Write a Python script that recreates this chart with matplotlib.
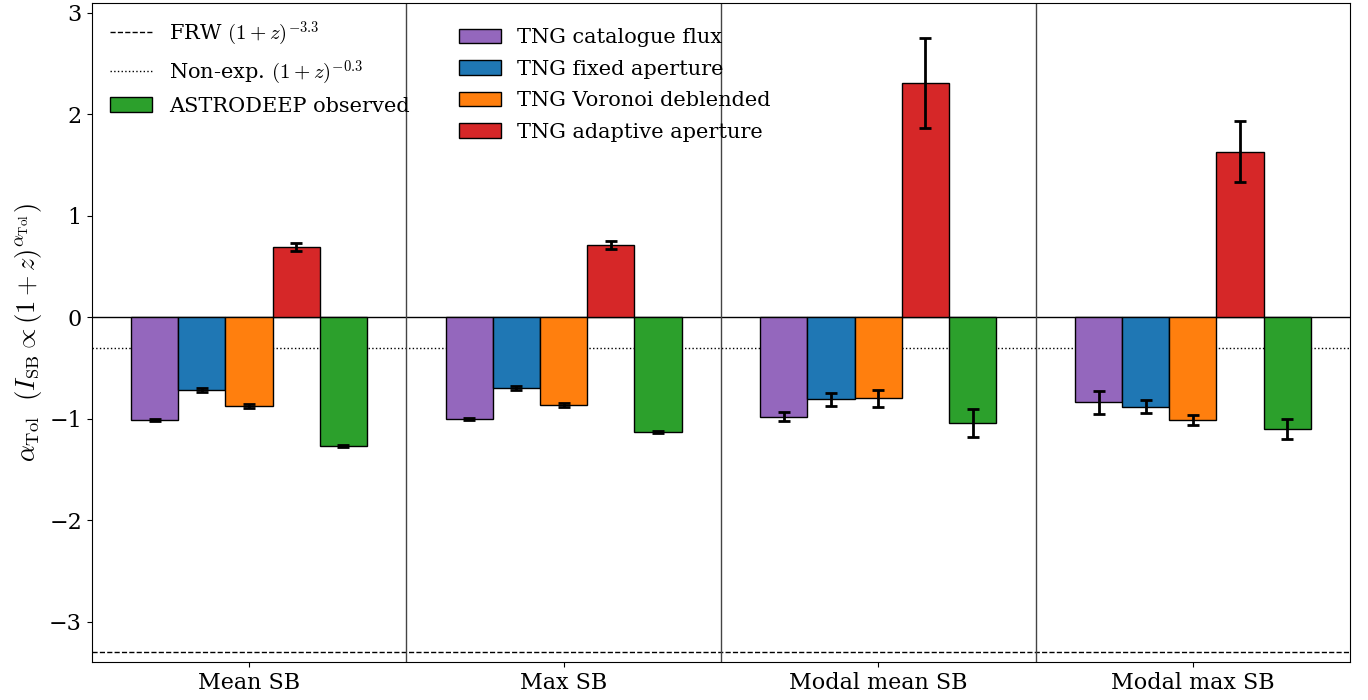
import matplotlib
matplotlib.use("Agg")
import matplotlib.pyplot as plt
import numpy as np
from matplotlib.patches import Patch
from matplotlib.lines import Line2D

plt.rcParams['font.family'] = ['DejaVu Serif']
plt.rcParams['mathtext.fontset'] = 'cm'

categories = ["Mean SB", "Max SB", "Modal mean SB", "Modal max SB"]
series_names = ["TNG catalogue flux", "TNG fixed aperture", "TNG Voronoi deblended",
                "TNG adaptive aperture", "ASTRODEEP observed"]
colors = ["#9467bd", "#1f77b4", "#ff7f0e", "#d62728", "#2ca02c"]

catalogue_flux = [-1.01, -1.005, -0.98, -0.84]
catalogue_err = [0.012, 0.012, 0.045, 0.11]
fixed_aperture = [-0.72, -0.70, -0.81, -0.88]
fixed_err = [0.02, 0.02, 0.06, 0.06]
voronoi = [-0.877, -0.867, -0.80, -1.01]
voronoi_err = [0.02, 0.02, 0.08, 0.05]
adaptive = [0.69, 0.71, 2.31, 1.63]
adaptive_err = [0.04, 0.04, 0.44, 0.30]
astrodeep = [-1.27, -1.13, -1.04, -1.10]
astrodeep_err = [0.012, 0.012, 0.136, 0.097]

values = [catalogue_flux, fixed_aperture, voronoi, adaptive, astrodeep]
errors = [catalogue_err, fixed_err, voronoi_err, adaptive_err, astrodeep_err]

frw_slope = -3.3
nonexp_slope = -0.3

fig = plt.figure(figsize=(13.68, 7.0), dpi=100)
ax = fig.add_axes([0.067, 0.054, 0.92, 0.942])

x = np.arange(len(categories))
width = 0.15
offsets = [-0.3, -0.15, 0.0, 0.15, 0.3]
for vals, errs, col, off in zip(values, errors, colors, offsets):
    ax.bar(x + off, vals, width, color=col, edgecolor='black', linewidth=1, zorder=2)
    ax.errorbar(x + off, vals, yerr=errs, fmt='none', ecolor='black',
                elinewidth=2, capsize=4, capthick=2, zorder=3)

ax.axhline(0, color='black', lw=1, zorder=1)
ax.axhline(nonexp_slope, color='black', lw=1, ls=':', zorder=1)
ax.axhline(frw_slope, color='black', lw=1, ls='--', zorder=1)
for s in [0.5, 1.5, 2.5]:
    ax.axvline(s, color='#444444', lw=1, zorder=1)

ax.set_xlim(-0.5, 3.5)
ax.set_ylim(-3.4, 3.1)
ax.set_xticks(x)
ax.set_xticklabels(categories, fontsize=16)
ax.set_yticks([-3, -2, -1, 0, 1, 2, 3])
ax.tick_params(axis='y', labelsize=16)
ax.set_ylabel(r'$\alpha_{\rm Tol}\ \ (I_{\rm SB} \propto (1+z)^{\alpha_{\rm Tol}})$', fontsize=19)

h1 = [Line2D([], [], color='black', ls='--', lw=1),
      Line2D([], [], color='black', ls=':', lw=1),
      Patch(facecolor=colors[4], edgecolor='black')]
l1 = ax.legend(h1, [r'FRW $(1+z)^{-3.3}$', r'Non-exp. $(1+z)^{-0.3}$', series_names[4]],
               loc='upper left', frameon=False, fontsize=15, handlelength=2.0,
               bbox_to_anchor=(0.0, 1.003))
ax.add_artist(l1)
h2 = [Patch(facecolor=c, edgecolor='black') for c in colors[:4]]
ax.legend(h2, series_names[:4], loc='upper left', bbox_to_anchor=(0.277, 0.99),
          frameon=False, fontsize=15, handlelength=2.0, labelspacing=0.6)

fig.savefig("out.png", dpi=100)
